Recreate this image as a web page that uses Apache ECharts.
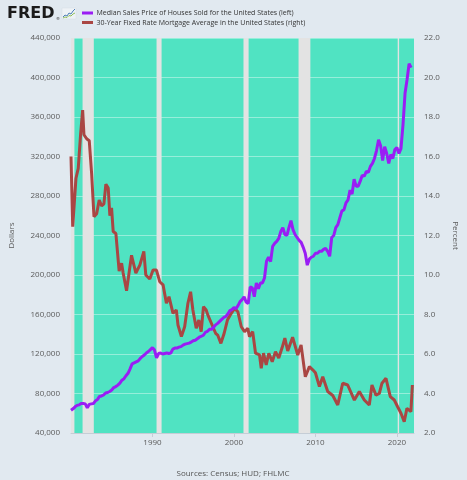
<!DOCTYPE html>
<html><head><meta charset="utf-8">
<script src="https://cdn.jsdelivr.net/npm/echarts@6/dist/echarts.min.js"></script>
<style>html,body{margin:0;padding:0;background:#e1e9f0;}#c{width:467px;height:480px;}</style>
</head><body><div id="c"></div>
<script>
// Median Sales Price of Houses Sold (quarterly, from 1980 Q1)
const priceStartYear = 1980;
const priceValues = [
  63000, 64500, 66500, 68000,
  68500, 70000, 70000, 69500,
  65500, 69000, 69500, 69800,
  72500, 74000, 77000, 77500,
  78500, 80500, 81000, 82000,
  83500, 86000, 87000, 88500,
  90500, 93500, 95000, 98000,
  100500, 105000, 110000, 111000,
  112000, 113000, 115500, 117500,
  119000, 121000, 122500, 124500,
  126500, 124000, 116000, 120500,
  121000, 120000, 120500, 121000,
  120500, 121000, 125000, 126000,
  126000, 127000, 127500, 129000,
  130000, 130500, 131000, 132000,
  133500, 134000, 135500, 137000,
  138000, 139000, 142000, 143000,
  145000, 145000, 147000, 149500,
  151000, 153000, 155000, 157000,
  158000, 160500, 164000, 165000,
  167000, 166000, 169000, 173000,
  175000, 178000, 172500, 171000,
  188000, 187000, 178000, 192000,
  186000, 192000, 192000, 197000,
  214000, 218000, 213500, 229000,
  232000, 234000, 237000, 244000,
  248000, 241000, 240000, 248000,
  255000, 246000, 241000, 238000,
  235000, 233000, 228000, 222000,
  210000, 216000, 218000, 219000,
  222000, 222000, 224000, 224000,
  226000, 227000, 224000, 219000,
  238000, 240000, 248000, 251000,
  258000, 265000, 266000, 273000,
  276000, 286000, 282000, 297000,
  290000, 290000, 295000, 301000,
  300000, 305000, 304000, 310000,
  313000, 318000, 326000, 337000,
  331000, 316000, 330000, 323000,
  313000, 322000, 318000, 327000,
  329000, 323000, 328000, 352000,
  384000, 398000, 414000, 410000
];

// 30-Year Fixed Rate Mortgage Average (decimal-year dates, percent)
const rateDates = [
  1980.0,1980.21,1980.61,1980.89,1981.19,1981.43,1981.59,1981.92,1982.24,1982.53,
  1982.82,1983.15,1983.46,1983.76,1984.04,1984.28,1984.57,1984.77,1984.98,1985.18,
  1985.51,1985.91,1986.21,1986.40,1986.82,1987.01,1987.43,1987.96,1988.45,1988.94,
  1989.18,1989.67,1990.07,1990.49,1990.89,1991.30,1991.71,1992.03,1992.52,1992.93,
  1993.13,1993.55,1993.95,1994.35,1994.68,1994.96,1995.37,1995.69,1995.98,1996.26,
  1996.59,1996.79,1996.99,1997.32,1997.75,1998.0,1998.4,1998.8,1999.2,1999.67,
  2000.08,2000.48,2000.9,2001.3,2001.7,2001.91,2002.3,2002.65,2003.14,2003.35,
  2003.63,2003.96,2004.28,2004.7,2005.1,2005.5,2005.9,2006.25,2006.6,2007.2,
  2007.83,2008.24,2008.76,2009.26,2009.67,2010.0,2010.49,2010.9,2011.51,2012.13,
  2012.74,2013.35,2013.96,2014.78,2015.39,2016.0,2016.61,2016.94,2017.43,2017.84,
  2018.17,2018.66,2019.19,2019.68,2020.09,2020.5,2020.9,2021.23,2021.72,2021.9
];
const rateValues = [
  16.0,12.45,14.9,15.4,17.2,18.35,17.1,16.9,16.8,15.15,
  12.95,13.1,13.8,13.5,13.6,14.6,14.4,13.0,13.4,12.2,
  12.1,10.2,10.6,10.1,9.2,9.1,11.0,10.1,10.5,11.2,
  10.0,9.8,10.25,10.25,9.66,9.5,8.57,8.9,8.06,8.23,
  7.47,6.88,7.38,8.57,9.15,8.23,7.3,7.72,7.13,8.4,
  8.23,7.98,8.06,7.47,7.05,6.96,6.54,7.05,7.72,8.06,
  8.31,8.14,7.38,7.13,7.3,6.88,7.13,6.04,5.95,5.28,
  6.04,5.45,6.04,5.61,6.12,5.8,6.3,6.8,6.15,6.85,
  5.95,6.46,4.85,5.36,5.2,5.05,4.35,4.85,4.1,3.9,
  3.42,4.52,4.43,3.67,4.1,3.67,3.42,4.43,3.92,4.0,
  4.52,4.77,3.84,3.67,3.33,3.0,2.57,3.25,3.08,4.43
];

// Recession periods (decimal years)
const recessionStarts = [1980.0, 1981.42, 1990.5, 2001.17, 2007.93, 2020.1];
const recessionEnds   = [1980.42, 1982.8, 1991.12, 2001.8, 2009.38, 2020.27];

const xTickLabels = [1990, 2000, 2010, 2020];
const seriesNames = [
  'Median Sales Price of Houses Sold for the United States (left)',
  '30-Year Fixed Rate Mortgage Average in the United States (right)'
];
const sourceText = 'Sources: Census; HUD; FHLMC';

const COLORS = { price: '#9a1df4', rate: '#aa4643', plot: '#50e3c2', rec: '#e3e3e3', text: '#5a5a5a' };
const FONT = '"Open Sans", sans-serif';

const priceData = priceValues.map((v, i) => [priceStartYear + i / 4, v]);
const rateData = rateValues.map((v, i) => [rateDates[i], v]);
const recAreas = recessionStarts.map((s, i) => [{ xAxis: s }, { xAxis: recessionEnds[i] }]);

const chart = echarts.init(document.getElementById('c'));
chart.setOption({
  backgroundColor: '#e1e9f0',
  animation: false,
  textStyle: { fontFamily: FONT },
  grid: { left: 71, right: 52, top: 38, bottom: 47, show: true, backgroundColor: COLORS.plot, borderWidth: 0 },
  xAxis: {
    type: 'value', min: 1980, max: 2022.1,
    axisLine: { show: true, lineStyle: { color: '#c5cdd6', width: 1 } },
    axisTick: { show: true, length: 4, lineStyle: { color: '#c5cdd6' }, customValues: xTickLabels },
    axisLabel: { customValues: xTickLabels, color: COLORS.text, fontSize: 8, margin: 6, fontFamily: FONT, formatter: v => String(v) },
    splitLine: { show: false }
  },
  yAxis: [
    {
      type: 'value', min: 40000, max: 440000, interval: 40000, position: 'left',
      name: 'Dollars', nameLocation: 'middle', nameGap: 55, nameRotate: 90,
      nameTextStyle: { color: COLORS.text, fontSize: 8, fontFamily: FONT },
      axisLine: { show: false }, axisTick: { show: false },
      axisLabel: { color: COLORS.text, fontSize: 8, margin: 11, fontFamily: FONT, formatter: v => v.toLocaleString('en-US') },
      splitLine: { show: true, lineStyle: { color: 'rgba(255,255,255,0.4)', width: 1 } }
    },
    {
      type: 'value', min: 2, max: 22, interval: 2, position: 'right',
      name: 'Percent', nameLocation: 'middle', nameGap: 37, nameRotate: -90,
      nameTextStyle: { color: COLORS.text, fontSize: 8, fontFamily: FONT },
      axisLine: { show: false }, axisTick: { show: false },
      axisLabel: { color: COLORS.text, fontSize: 8, margin: 10, fontFamily: FONT, formatter: v => v.toFixed(1) },
      splitLine: { show: false }
    }
  ],
  series: [
    {
      type: 'line', name: 'recessions', data: [], z: 1, silent: true,
      markArea: { silent: true, itemStyle: { color: COLORS.rec }, data: recAreas }
    },
    {
      type: 'line', name: seriesNames[1], yAxisIndex: 1, data: rateData, z: 3,
      showSymbol: false, lineStyle: { color: COLORS.rate, width: 3 }, itemStyle: { color: COLORS.rate }
    },
    {
      type: 'line', name: seriesNames[0], yAxisIndex: 0, data: priceData, z: 4,
      showSymbol: false, lineStyle: { color: COLORS.price, width: 3 }, itemStyle: { color: COLORS.price }
    }
  ],
  graphic: [
    { type: 'text', left: 7, top: 6, style: { text: 'FRED', font: '900 16px "DejaVu Sans"', fill: '#1b1b1b' } },
    { type: 'text', left: 56, top: 17, style: { text: '®', font: '4px "DejaVu Sans"', fill: '#1b1b1b' } },
    { type: 'rect', shape: { x: 62, y: 8, width: 14, height: 11 }, style: { fill: '#eef2f6', stroke: '#d5dde6', lineWidth: 0.5 } },
    { type: 'polyline', shape: { points: [[63, 17], [65, 15], [67, 16], [69, 13], [71, 14], [73, 11], [75, 9]] }, style: { stroke: '#4d7fb8', lineWidth: 1, fill: null } },
    { type: 'polyline', shape: { points: [[63, 18], [65, 17], [67, 17.5], [69, 15.5], [71, 16], [73, 14], [75, 13]] }, style: { stroke: '#8fbf5a', lineWidth: 1, fill: null } },
    { type: 'rect', shape: { x: 82, y: 11.5, width: 11, height: 3 }, style: { fill: COLORS.price } },
    { type: 'text', x: 96.5, y: 13, style: { text: seriesNames[0], font: '7px ' + FONT, fill: '#333', verticalAlign: 'middle' } },
    { type: 'rect', shape: { x: 82, y: 21, width: 11, height: 3 }, style: { fill: COLORS.rate } },
    { type: 'text', x: 96.5, y: 22.5, style: { text: seriesNames[1], font: '7px ' + FONT, fill: '#333', verticalAlign: 'middle' } },
    { type: 'text', x: 233, y: 474, style: { text: sourceText, font: '8px ' + FONT, fill: '#555', align: 'center', verticalAlign: 'middle' } }
  ]
});
</script>
</body></html>
